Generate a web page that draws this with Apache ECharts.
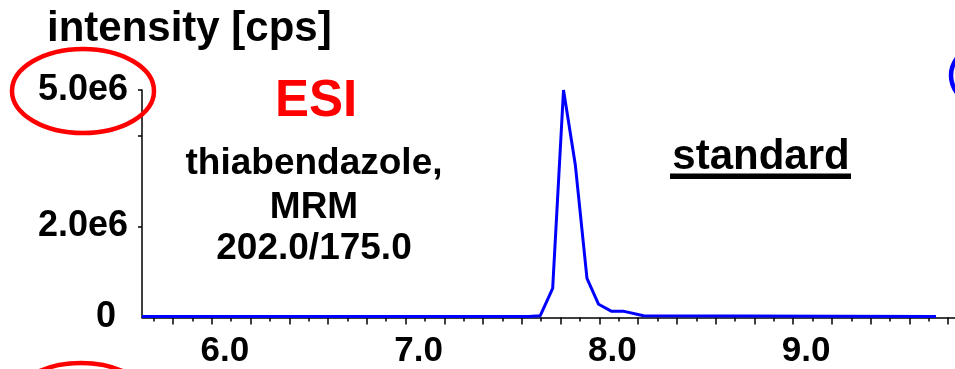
<!DOCTYPE html>
<html>
<head>
<meta charset="utf-8">
<script src="https://cdn.jsdelivr.net/npm/echarts@6/dist/echarts.min.js"></script>
<style>
html,body{margin:0;padding:0;background:#fff;}
#c{width:955px;height:369px;}
</style>
</head>
<body>
<div id="c"></div>
<script>
// ---- data ----
const timesMin = [5.64, 7.634, 7.695, 7.759, 7.815, 7.876, 7.936, 7.996, 8.061, 8.122, 8.228, 9.737];
const intensityCps = [0.02e6, 0.02e6, 0.04e6, 0.64e6, 5.0e6, 3.35e6, 0.86e6, 0.29e6, 0.14e6, 0.14e6, 0.04e6, 0.02e6];

const xMajorTicks = [5.8, 6.0, 6.2, 6.4, 6.6, 6.8, 7.0, 7.2, 7.4, 7.6, 7.8, 8.0, 8.2, 8.4, 8.6, 8.8, 9.0, 9.2, 9.4, 9.6, 9.8];
const xMinorTicks = [5.7, 5.9, 6.1, 6.3, 6.5, 6.7, 6.9, 7.1, 7.3, 7.5, 7.7, 7.9, 8.1, 8.3, 8.5, 8.7, 8.9, 9.1, 9.3, 9.5, 9.7];
const xLabelValues = [6.0, 7.0, 8.0, 9.0];
const xLabelTexts = ['6.0', '7.0', '8.0', '9.0'];

const yTickValues = [2e6, 4e6, 5e6];
const yLabelValues = [0, 2e6, 5e6];
const yLabelTexts = ['0', '2.0e6', '5.0e6'];

const titleText = 'intensity [cps]';
const ionText = 'ESI';
const compoundLines = ['thiabendazole,', 'MRM', '202.0/175.0'];
const sampleText = 'standard';

// ---- chart ----
const FONT = '"Liberation Sans", Arial, Helvetica, sans-serif';
const seriesData = timesMin.map((t, i) => [t, intensityCps[i]]);
function pick(vals, texts, v) {
  for (let i = 0; i < vals.length; i++) if (Math.abs(vals[i] - v) < 1e-6) return texts[i];
  return '';
}

const chart = echarts.init(document.getElementById('c'), null, {renderer: 'canvas'});
chart.setOption({
  animation: false,
  backgroundColor: '#ffffff',
  grid: {left: 142, right: 0, top: 90, bottom: 51.5, containLabel: false, outerBoundsMode: 'none'},
  xAxis: [{
    type: 'value', position: 'bottom', min: 5.64, max: 9.835,
    axisLine: {show: true, onZero: false, lineStyle: {color: '#000', width: 1.5}},
    axisTick: {show: true, customValues: xMajorTicks, length: 7, lineStyle: {color: '#000', width: 1.5}},
    axisLabel: {
      show: true, customValues: xLabelValues, margin: 16, padding: [0, 0, 0, 26],
      fontSize: 35, fontWeight: 'bold', fontFamily: FONT, color: '#000',
      formatter: v => pick(xLabelValues, xLabelTexts, v)
    },
    splitLine: {show: false}
  }, {
    type: 'value', position: 'bottom', min: 5.64, max: 9.835,
    axisLine: {show: false},
    axisTick: {show: true, customValues: xMinorTicks, length: 4, lineStyle: {color: '#000', width: 1.5}},
    axisLabel: {show: false},
    splitLine: {show: false}
  }],
  yAxis: {
    type: 'value', min: 0, max: 5e6,
    axisLine: {show: true, onZero: false, lineStyle: {color: '#000', width: 1.5}},
    axisTick: {show: true, customValues: yTickValues, length: 4, lineStyle: {color: '#000', width: 1.5}},
    axisLabel: {
      show: true, customValues: yLabelValues, margin: 14,
      fontSize: 36, fontWeight: 'bold', fontFamily: FONT, color: '#000',
      formatter: v => {
        const s = pick(yLabelValues, yLabelTexts, v);
        return v === 0 ? '{z|' + s + '}' : s;
      },
      rich: {z: {fontSize: 36, fontWeight: 'bold', fontFamily: FONT, color: '#000', padding: [0, 12, 0, 0]}}
    },
    splitLine: {show: false}
  },
  series: [{
    type: 'line', xAxisIndex: 0, data: seriesData, showSymbol: false, symbol: 'none',
    lineStyle: {color: '#0000ff', width: 3}, z: 5
  }],
  graphic: [
    {type: 'text', x: 47, y: 29, style: {text: titleText, font: 'bold 42px ' + FONT, fill: '#000', align: 'left', verticalAlign: 'middle'}},
    {type: 'text', x: 316, y: 102, style: {text: ionText, font: 'bold 51px ' + FONT, fill: '#ff0000', align: 'center', verticalAlign: 'middle'}},
    {type: 'text', x: 314, y: 164, style: {text: compoundLines[0], font: 'bold 37px ' + FONT, fill: '#000', align: 'center', verticalAlign: 'middle'}},
    {type: 'text', x: 314, y: 208, style: {text: compoundLines[1], font: 'bold 37px ' + FONT, fill: '#000', align: 'center', verticalAlign: 'middle'}},
    {type: 'text', x: 314, y: 249, style: {text: compoundLines[2], font: 'bold 37px ' + FONT, fill: '#000', align: 'center', verticalAlign: 'middle'}},
    {type: 'text', x: 761, y: 157, style: {text: sampleText, font: 'bold 42px ' + FONT, fill: '#000', align: 'center', verticalAlign: 'middle'}},
    {type: 'rect', shape: {x: 670, y: 173.5, width: 181, height: 5.5}, style: {fill: '#000'}},
    {type: 'ellipse', shape: {cx: 83, cy: 91, rx: 71, ry: 42}, style: {fill: 'none', stroke: '#ff0000', lineWidth: 4.5}, z: 10},
    {type: 'ellipse', shape: {cx: 81, cy: 405, rx: 70, ry: 42}, style: {fill: 'none', stroke: '#ff0000', lineWidth: 4.5}, z: 10},
    {type: 'ellipse', shape: {cx: 1021, cy: 75.5, rx: 70, ry: 42}, style: {fill: 'none', stroke: '#0000ff', lineWidth: 4.5}, z: 10}
  ]
});
</script>
</body>
</html>
